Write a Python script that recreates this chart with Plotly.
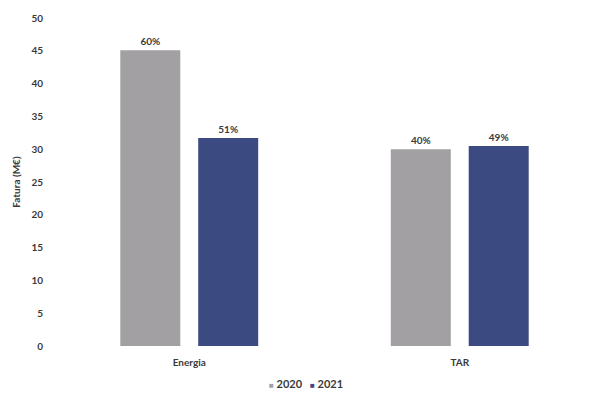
import plotly.graph_objects as go

categories = ["Energia", "TAR"]
values_2020 = [45.1, 30.0]
values_2021 = [31.7, 30.5]
labels_2020 = ["60%", "40%"]
labels_2021 = ["51%", "49%"]
series_names = ["2020", "2021"]
y_ticks = [0, 5, 10, 15, 20, 25, 30, 35, 40, 45, 50]

FONT = "Lato"
TXT = "#3a3a3a"
C2020 = "#a2a0a2"
C2021 = "#3b4a80"

fig = go.Figure()
fig.add_trace(go.Bar(
    x=categories, y=values_2020, name=series_names[0],
    marker=dict(color=C2020, line=dict(width=0)),
    text=labels_2020, textposition="outside", cliponaxis=False,
    textfont=dict(family=FONT, size=10, color=TXT, weight="bold"),
))
fig.add_trace(go.Bar(
    x=categories, y=values_2021, name=series_names[1],
    marker=dict(color=C2021, line=dict(width=0)),
    text=labels_2021, textposition="outside", cliponaxis=False,
    textfont=dict(family=FONT, size=10, color=TXT, weight="bold"),
))

legend_text = (f"<span style='color:{C2020};font-size:8px'>■</span> {series_names[0]}&nbsp;&nbsp;&nbsp;"
               f"<span style='color:{C2021};font-size:8px'>■</span> {series_names[1]}")

fig.update_layout(
    width=595, height=398,
    margin=dict(l=54, r=0, t=18, b=52),
    paper_bgcolor="white", plot_bgcolor="white",
    barmode="group", bargap=0.424, bargroupgap=0.23,
    font=dict(family=FONT, size=10, color=TXT),
    showlegend=False,
    uniformtext=dict(minsize=8, mode="show"),
    annotations=[dict(text=legend_text, xref="paper", yref="paper",
                      x=0.465, xanchor="center", y=-0.115, yanchor="middle",
                      showarrow=False,
                      font=dict(family=FONT, size=11, color=TXT, weight="bold"))],
)
fig.update_xaxes(showline=False, showgrid=False, ticks="", ticklabelstandoff=9,
                 tickfont=dict(family=FONT, size=10, color=TXT, weight="bold"))
fig.update_yaxes(range=[0, 50], tickvals=y_ticks, showgrid=False, zeroline=False,
                 showline=False, ticks="", ticklabelstandoff=10,
                 tickfont=dict(family=FONT, size=10, color=TXT, weight="bold"),
                 title=dict(text="Fatura (M€)", standoff=8,
                            font=dict(family=FONT, size=10, color=TXT, weight="bold")))

fig.write_html("out.html")
